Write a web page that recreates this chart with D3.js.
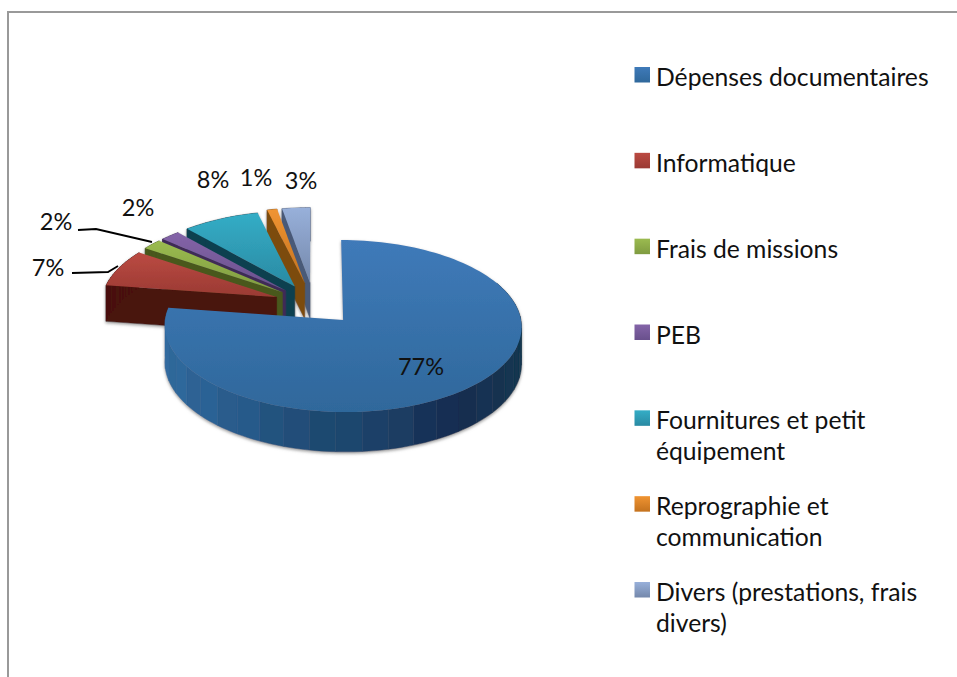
<!DOCTYPE html>
<html><head><meta charset="utf-8">
<script src="https://cdn.jsdelivr.net/npm/d3@7"></script>
<style>html,body{margin:0;background:#fff}svg{display:block}text{font-family:Lato,"Open Sans",sans-serif;fill:#111}</style>
</head><body><svg id="c" width="957" height="677"></svg>
<script>
const categories=["Dépenses documentaires","Informatique","Frais de missions","PEB","Fournitures et petit équipement","Reprographie et communication","Divers (prestations, frais divers)"];
const legendLines=[["Dépenses documentaires"],["Informatique"],["Frais de missions"],["PEB"],["Fournitures et petit","équipement"],["Reprographie et","communication"],["Divers (prestations, frais","divers)"]];
const values=[77.3,7.2,2.0,2.0,7.7,1.0,2.8];
const topLight=["#3f7ab9","#bb4a42","#9bbb50","#8464a8","#34adc6","#f09432","#98b0da"];
const topDark=["#2f689b","#9a3a33","#7f9b40","#69508c","#2a8aa3","#c4721e","#7488ab"];
const wallColor=["#1d4468","#4a130d","#48581e","#3f2c57","#0e4050","#7c4c0d","#4a5a78"];
const blueWallStops=["#30689b","#28598a","#204a72","#1c4066","#152c50","#12364f"];
const explode=[0.25,0.23,0.23,0.23,0.24,0.26,0.26];
const labelPos=[[421,367],[48,268],[56,222],[138,208],[213,180],[256,178],[301,181]];
const leaders=[null,[[72,273],[108,272],[118,266]],[[78,230],[96,229],[152,242]],null,null,null,null];

const svg=d3.select("#c");
const defs=svg.append("defs");
const f=defs.append("filter").attr("id","sh").attr("x","-10%").attr("y","-10%").attr("width","120%").attr("height","125%");
f.append("feDropShadow").attr("dx",0).attr("dy",1.5).attr("stdDeviation",1.5).attr("flood-color","#777").attr("flood-opacity",.75);

// frame
svg.append("path").attr("d",d3.line()([[8,677],[8,12],[957,12]])).attr("fill","none").attr("stroke","#999").attr("stroke-width",2);

// projection
const cx=314,cy=304,bx=175.5,ay=83.3,k=0.07,depth=36.5;
const project=(u,v,drop=false)=>{const w=1-k*v;return [cx+bx*u/w,cy+ay*v/w+(drop?depth/w:0)];};
const line=d3.line();
const arcs=d3.pie().sort(null)(values);
const unit=a=>[Math.sin(a),-Math.cos(a)];

const geo=arcs.map((d,i)=>{
  const mid=(d.startAngle+d.endAngle)/2,[mu,mv]=unit(mid),e=explode[i];
  const o=[mu*e,mv*e];
  const n=Math.max(2,Math.ceil((d.endAngle-d.startAngle)/(Math.PI/90)));
  const angs=d3.range(n+1).map(j=>d.startAngle+(d.endAngle-d.startAngle)*j/n);
  const pts=angs.map(a=>{const[u,v]=unit(a);return [o[0]+u,o[1]+v];});
  return {i,o,pts,angs};
});
const order=[6,5,4,3,2,1,0];
const bandScale=d3.scaleLinear().domain([0,.2,.4,.6,.8,1]).range(blueWallStops).interpolate(d3.interpolateRgb);

geo.forEach(g=>{
  const lg=defs.append("linearGradient").attr("id","g"+g.i).attr("x1",0).attr("y1",0).attr("x2",0).attr("y2",1);
  lg.append("stop").attr("offset",0).attr("stop-color",topLight[g.i]);
  lg.append("stop").attr("offset",1).attr("stop-color",topDark[g.i]);
});

const pieG=svg.append("g").attr("filter","url(#sh)");
order.forEach(i=>{
  const g=geo[i],G=pieG.append("g");
  const apexT=project(g.o[0],g.o[1]),apexB=project(g.o[0],g.o[1],true);
  const first=g.pts[0];
  // radial walls
  if(i!==0){
    const wall=[apexT,project(first[0],first[1]),project(first[0],first[1],true),apexB];
    G.append("path").attr("d",line(wall)+"Z").attr("fill",wallColor[i]).attr("stroke",wallColor[i]).attr("stroke-width",.5);
  }
  // outer wall, banded
  const step=i===0?4:1;
  for(let j=0;j<g.pts.length-1;j+=step){
    if(i===0&&g.angs[j]<Math.PI/3)continue;
    const slice=g.pts.slice(j,Math.min(j+step,g.pts.length-1)+1);
    const poly=slice.map(p=>project(p[0],p[1])).concat(slice.slice().reverse().map(p=>project(p[0],p[1],true)));
    let col=wallColor[i];
    if(i===0){
      const mx=d3.mean(poly,p=>p[0]);
      col=bandScale(Math.max(0,Math.min(1,1-(521-mx)/355)));
      if(j%8===0)col=d3.color(col).brighter(.08).formatHex();
    }
    G.append("path").attr("d",line(poly)+"Z").attr("fill",col).attr("stroke",col).attr("stroke-width",.5);
  }
  // top
  const top=[apexT].concat(g.pts.map(p=>project(p[0],p[1])));
  G.append("path").attr("d",line(top)+"Z").attr("fill",`url(#g${i})`);
});

// leaders
leaders.forEach(l=>{if(l)svg.append("path").attr("d",line(l)).attr("fill","none").attr("stroke","#000").attr("stroke-width",1.8);});

// data labels
svg.append("g").selectAll("text").data(values).join("text")
  .attr("x",(d,i)=>labelPos[i][0]).attr("y",(d,i)=>labelPos[i][1]+8)
  .attr("text-anchor","middle").attr("font-size",23.5).text(d=>Math.round(d)+"%");

// legend
const legendY=d3.scalePoint().domain(categories).range([78,593]);
const lgG=svg.append("g").selectAll("g").data(categories).join("g").attr("transform",d=>`translate(0,${legendY(d)})`);
lgG.each(function(d,i){
  const s=d3.select(this);
  const id="lg"+i,lg=defs.append("linearGradient").attr("id",id).attr("x1",0).attr("y1",0).attr("x2",0).attr("y2",1);
  lg.append("stop").attr("offset",0).attr("stop-color",topLight[i]);
  lg.append("stop").attr("offset",1).attr("stop-color",topDark[i]);
  s.append("rect").attr("x",634.5).attr("y",-11).attr("width",15.5).attr("height",15.5).attr("fill",`url(#${id})`);
  legendLines[i].forEach((t,j)=>s.append("text").attr("x",656).attr("y",8+j*31).attr("font-size",24.7).text(t));
});
</script></body></html>
